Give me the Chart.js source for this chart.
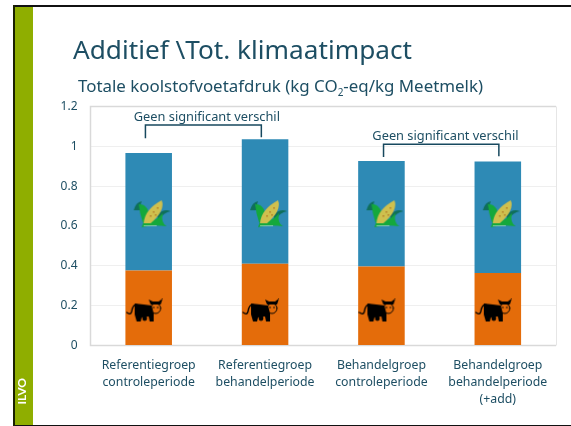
<!DOCTYPE html>
<html>
<head>
<meta charset="utf-8">
<script src="https://cdn.jsdelivr.net/npm/chart.js@4"></script>
<style>
  html, body { margin: 0; padding: 0; background: #fff; }
  #page { position: relative; width: 571px; height: 426px; overflow: hidden; font-family: "Noto Sans", sans-serif; color: #1d4e63; }
  #frameTop { position: absolute; left: 13px; top: 5px; right: 0; height: 2px; background: #111; }
  #frameBottom { position: absolute; left: 13px; top: 425px; right: 0; height: 1px; background: #111; }
  #frameLeft { position: absolute; left: 13px; top: 5px; width: 2px; height: 421px; background: #1a2200; }
  #band { position: absolute; left: 15px; top: 7px; width: 18px; height: 418px; background: #8fae00; }
  #ilvo { position: absolute; left: 9px; top: 385px; width: 24px; text-align: center; color: #fff; font-family: Lato, sans-serif; font-size: 12px; font-weight: 700; transform: rotate(-90deg); }
  #title { position: absolute; left: 73px; top: 32px; font-size: 26.2px; line-height: 34px; white-space: nowrap; }
  #subtitle { position: absolute; left: 78px; top: 74px; font-size: 16.9px; line-height: 24px; white-space: nowrap; }
  #subtitle sub { font-size: 10px; line-height: 0; }
  canvas { position: absolute; left: 0; top: 0; }
</style>
</head>
<body>
<div id="page">
  <canvas id="chart" width="571" height="426"></canvas>
  <div id="band"></div>
  <div id="frameTop"></div>
  <div id="frameBottom"></div>
  <div id="frameLeft"></div>
  <div id="ilvo">ILVO</div>
  <div id="title">Additief \Tot. klimaatimpact</div>
  <div id="subtitle">Totale koolstofvoetafdruk (kg CO<sub>2</sub>-eq/kg Meetmelk)</div>
</div>
<script>
const categories = [
  ["Referentiegroep", "controleperiode"],
  ["Referentiegroep", "behandelperiode"],
  ["Behandelgroep", "controleperiode"],
  ["Behandelgroep", "behandelperiode", "(+add)"],
]
const cowValues = [0.377, 0.41, 0.397, 0.364]
const cornValues = [0.589, 0.625, 0.529, 0.56]
const cowIconLevels = [0.176, 0.176, 0.176, 0.176]
const cornIconLevels = [0.659, 0.659, 0.659, 0.659]

const textColor = "#1d4e63"

// from, to: category positions on the x scale, top and feet: axis values
const brackets = [
  { from: -0.028, to: 0.968, top: 1.107, fromFoot: 1.04, toFoot: 1.045, label: "Geen significant verschil", labelValue: 1.145, labelIndex: 0.5 },
  { from: 2.018, to: 3.009, top: 1.011, fromFoot: 0.946, toFoot: 0.95, label: "Geen significant verschil", labelValue: 1.048, labelIndex: 2.55 },
]

// the icons sit a little off the bar centre, hence the empty side in each canvas
function makeCow() {
  const c = document.createElement("canvas")
  c.width = 46
  c.height = 24
  const g = c.getContext("2d")
  g.fillStyle = "#000"
  g.strokeStyle = "#000"
  g.lineCap = "round"
  // tail
  g.lineWidth = 1.3
  g.beginPath()
  g.moveTo(11, 6)
  g.quadraticCurveTo(7, 6, 6, 13)
  g.quadraticCurveTo(5, 17, 1, 14)
  g.stroke()
  // body
  g.beginPath()
  g.moveTo(9, 5)
  g.lineTo(18, 6)
  g.lineTo(26, 7)
  g.lineTo(28, 15)
  g.lineTo(28, 23)
  g.lineTo(24, 23)
  g.lineTo(23, 18)
  g.lineTo(16, 19)
  g.lineTo(15, 23)
  g.lineTo(11, 23)
  g.lineTo(9, 16)
  g.closePath()
  g.fill()
  // udder
  g.beginPath()
  g.arc(19, 20, 2.4, 0, Math.PI * 2)
  g.fill()
  // head with horns
  g.beginPath()
  g.moveTo(23, 1)
  g.lineTo(27, 3)
  g.lineTo(33, 3)
  g.lineTo(37, 0)
  g.lineTo(35, 6)
  g.lineTo(25, 6)
  g.closePath()
  g.fill()
  g.lineWidth = 1
  g.beginPath()
  g.arc(30, 10, 5, 0, Math.PI * 2)
  g.stroke()
  g.beginPath()
  g.arc(28, 9, 0.8, 0, Math.PI * 2)
  g.arc(32, 9, 0.8, 0, Math.PI * 2)
  g.fill()
  return c
}

function makeCorn() {
  const c = document.createElement("canvas")
  c.width = 44
  c.height = 30
  const g = c.getContext("2d")
  const dx = 6
  g.translate(dx, 0)
  // leaves
  g.fillStyle = "#0f6f5a"
  g.beginPath()
  g.moveTo(1, 11)
  g.quadraticCurveTo(3, 3, 9, 2)
  g.quadraticCurveTo(7, 7, 7, 11)
  g.closePath()
  g.fill()
  g.beginPath()
  g.moveTo(24, 16)
  g.quadraticCurveTo(31, 9, 38, 12)
  g.quadraticCurveTo(31, 13, 26, 21)
  g.closePath()
  g.fill()
  g.fillStyle = "#14a83c"
  g.beginPath()
  g.moveTo(6, 5)
  g.quadraticCurveTo(16, 4, 18, 22)
  g.lineTo(10, 23)
  g.quadraticCurveTo(7, 14, 6, 5)
  g.fill()
  g.beginPath()
  g.moveTo(11, 22)
  g.quadraticCurveTo(22, 24, 30, 14)
  g.quadraticCurveTo(28, 24, 34, 27)
  g.quadraticCurveTo(20, 25, 9, 28)
  g.closePath()
  g.fill()
  // cob
  g.fillStyle = "#cfc04e"
  g.beginPath()
  g.moveTo(11, 24)
  g.quadraticCurveTo(12, 10, 29, 1)
  g.quadraticCurveTo(33, 11, 18, 24)
  g.closePath()
  g.fill()
  g.fillStyle = "#b98a2e"
  for (const [x, y] of [[17, 16], [20, 12], [24, 8], [22, 15]]) {
    g.fillRect(x, y, 2, 1.5)
  }
  g.fillStyle = "rgba(207, 232, 216, 0.6)"
  g.fillRect(11, 26, 13, 1)
  return c
}

const plotFrame = {
  id: "plotFrame",
  beforeDatasetsDraw(chart) {
    const { ctx, chartArea: a } = chart
    ctx.save()
    ctx.strokeStyle = "#e6e6e6"
    ctx.lineWidth = 1
    ctx.beginPath()
    ctx.moveTo(a.right + 0.5, a.top)
    ctx.lineTo(a.right + 0.5, a.bottom)
    ctx.stroke()
    ctx.strokeStyle = "#d9d9d9"
    ctx.lineWidth = 1.5
    ctx.beginPath()
    ctx.moveTo(a.right, a.top)
    ctx.lineTo(a.left, a.top)
    ctx.lineTo(a.left, a.bottom)
    ctx.lineTo(a.right, a.bottom)
    ctx.stroke()
    ctx.restore()
  },
}

const bracketPlugin = {
  id: "bracketPlugin",
  afterDraw(chart) {
    const { ctx, scales } = chart
    ctx.save()
    ctx.font = '12.8px "Noto Sans"'
    ctx.textAlign = "center"
    ctx.textBaseline = "middle"
    for (const b of brackets) {
      const x1 = scales.x.getPixelForValue(b.from)
      const x2 = scales.x.getPixelForValue(b.to)
      ctx.strokeStyle = "#17485e"
      ctx.lineWidth = 1.5
      ctx.beginPath()
      ctx.moveTo(x1, scales.y.getPixelForValue(b.fromFoot))
      ctx.lineTo(x1, scales.y.getPixelForValue(b.top))
      ctx.lineTo(x2, scales.y.getPixelForValue(b.top))
      ctx.lineTo(x2, scales.y.getPixelForValue(b.toFoot))
      ctx.stroke()
      ctx.fillStyle = textColor
      ctx.fillText(b.label, scales.x.getPixelForValue(b.labelIndex), scales.y.getPixelForValue(b.labelValue))
    }
    ctx.restore()
  },
}

new Chart(document.getElementById("chart"), {
  type: "bar",
  data: {
    labels: categories,
    datasets: [
      { label: "cow", data: cowValues, backgroundColor: "#e46c0a", order: 2 },
      { label: "corn", data: cornValues, backgroundColor: "#2e8ab5", order: 2 },
      {
        type: "line",
        stack: "cowIcon",
        data: cowIconLevels,
        showLine: false,
        pointStyle: makeCow(),
        order: 1,
      },
      {
        type: "line",
        stack: "cornIcon",
        data: cornIconLevels,
        showLine: false,
        pointStyle: makeCorn(),
        order: 1,
      },
    ],
  },
  options: {
    responsive: false,
    animation: false,
    barPercentage: 0.4,
    categoryPercentage: 1,
    layout: { padding: { left: 0, right: 15, top: 106.5, bottom: 0 } },
    plugins: {
      legend: { display: false },
      tooltip: { enabled: false },
      title: { display: false },
    },
    scales: {
      x: {
        stacked: true,
        grid: { display: false },
        border: { display: false },
        ticks: {
          color: textColor,
          font: { family: "Noto Sans", size: 12.3, lineHeight: 1.4 },
          maxRotation: 0,
          autoSkip: false,
          padding: 3,
        },
        afterFit(scale) {
          scale.height = 80.5
        },
      },
      y: {
        stacked: true,
        min: 0,
        max: 1.2,
        afterFit(scale) {
          scale.width = 90.5
        },
        grid: { color: "#efefef", drawTicks: false },
        border: { display: false },
        ticks: {
          stepSize: 0.2,
          color: textColor,
          font: { family: "Noto Sans", size: 12 },
          padding: 13,
          callback: (v) => String(+v.toFixed(1)),
        },
      },
    },
  },
  plugins: [plotFrame, bracketPlugin],
})
</script>
</body>
</html>
